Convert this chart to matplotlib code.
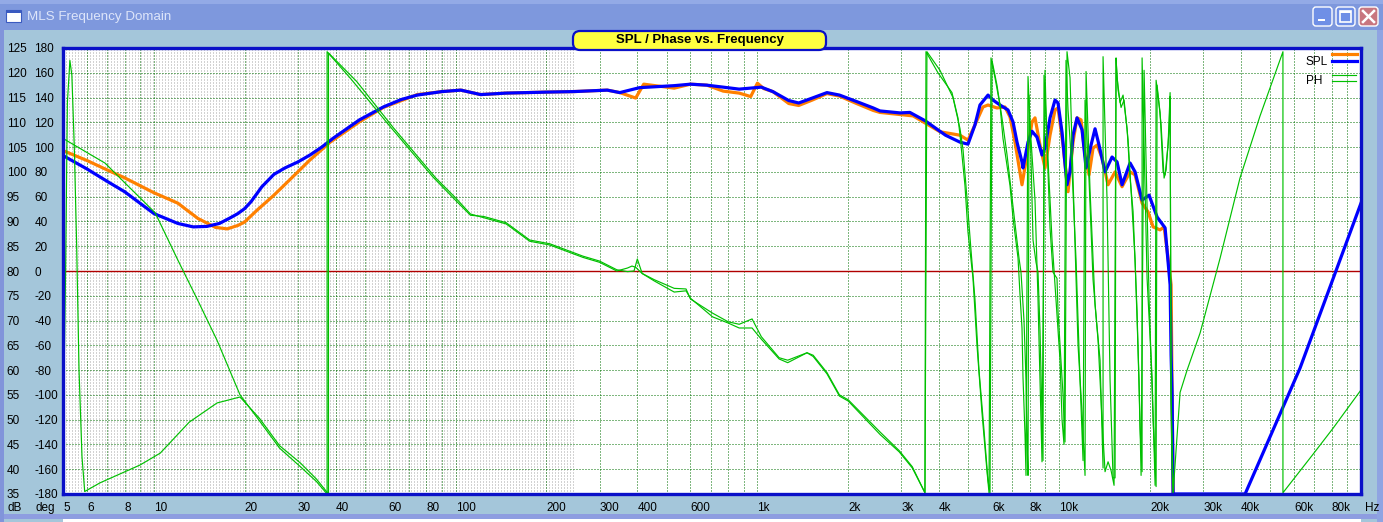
import matplotlib
matplotlib.use('Agg')
import matplotlib.pyplot as plt
import numpy as np
from matplotlib.patches import Rectangle, FancyBboxPatch
from matplotlib.lines import Line2D
from matplotlib.transforms import IdentityTransform

plt.rcParams['font.family'] = ['Liberation Sans', 'DejaVu Sans']

# ---- data (Hz, dB / Hz, deg) ----
spl_orange = [(5, 104.3), (6, 102.3), (7, 100.4), (8, 98.8), (10, 95.8), (12, 93.7), (14, 90.6),
              (16, 88.8), (17.5, 88.5), (19, 89.2), (20, 89.9), (22, 92.3), (25, 95.3), (28.2, 98.4),
              (32.9, 102.4), (38.4, 106.0), (48, 110.1), (57.6, 113.0), (74.6, 115.6), (90, 116.2),
              (104, 116.5), (121, 115.6), (147, 115.9), (200, 116.1), (245, 116.2), (318, 116.5),
              (350, 116.0), (395, 114.9), (420, 117.7), (530, 116.9), (600, 117.7), (680, 117.5),
              (770, 116.3), (870, 115.9), (950, 115.2), (1000, 117.9), (1050, 116.8), (1125, 116.2),
              (1270, 113.8), (1370, 113.4), (1520, 114.5), (1700, 115.8), (1870, 115.3), (2130, 113.8),
              (2420, 112.4), (2547, 112.0), (3280, 111.3), (4026, 108.1), (4690, 107.4), (4985, 106.4),
              (5259, 109.5), (5590, 113.1), (5808, 113.5), (6220, 112.9), (6612, 113.1), (6869, 111.1),
              (7137, 106.0), (7528, 97.4), (7822, 103.4), (8126, 110.1), (8314, 110.9), (8637, 105.4),
              (8973, 100.8), (9322, 107.4), (9685, 112.5), (9910, 112.9), (10296, 105.4), (10696, 96.0),
              (11112, 106.0), (11457, 110.9), (11812, 110.5), (12178, 103.4), (12556, 99.4),
              (12945, 104.8), (13347, 105.4), (13866, 102.8), (14516, 97.4), (15313, 100.0),
              (16154, 97.0), (17171, 100.0), (17839, 99.4), (18820, 93.7), (19702, 91.9), (20470, 88.9),
              (21591, 88.3), (22260, 88.9), (22950, 82.6), (23484, 77.2), (23665, 55.0), (23846, 35.0)]

spl_blue = [(5, 103.3), (6, 100.6), (7, 98.1), (8, 96.0), (10, 91.6), (12, 89.6), (13.5, 88.9),
            (15, 89.0), (16.5, 89.6), (18, 90.8), (19, 91.6), (20, 92.6), (21, 94.0), (22.8, 97.0),
            (25, 99.5), (27.2, 100.8), (30, 102.0), (32.9, 103.4), (36, 105.0), (39.3, 106.8),
            (48, 110.5), (57.6, 113.1), (66, 114.6), (74.6, 115.5), (90, 116.2), (104, 116.5),
            (121, 115.6), (147, 115.9), (200, 116.1), (245, 116.2), (318, 116.5), (350, 116.0),
            (407, 117.0), (530, 117.4), (600, 117.7), (680, 117.5), (770, 117.1), (870, 116.7),
            (1030, 117.1), (1125, 116.2), (1270, 114.4), (1370, 113.9), (1520, 114.9), (1700, 116.0),
            (1870, 115.5), (2130, 114.2), (2420, 112.9), (2547, 112.3), (2970, 111.9), (3200, 112.0),
            (3600, 110.3), (4200, 107.4), (4690, 106.0), (4985, 105.6), (5259, 109.5), (5463, 113.5),
            (5808, 115.5), (6033, 114.5), (6364, 113.5), (6765, 112.5), (7028, 110.1), (7247, 106.0),
            (7528, 102.0), (7586, 100.8), (7882, 106.0), (8126, 108.2), (8442, 107.0), (8770, 103.4),
            (8973, 104.8), (9322, 110.9), (9685, 114.5), (9910, 113.9), (10217, 108.0), (10614, 97.4),
            (10860, 100.0), (11112, 107.4), (11457, 110.9), (11903, 108.5), (12272, 100.8),
            (12749, 105.4), (13144, 108.7), (13552, 105.4), (14187, 100.0), (14966, 103.0),
            (15549, 102.0), (16154, 97.4), (17171, 101.8), (17839, 100.0), (18820, 94.3), (19851, 95.3),
            (21103, 90.9), (22432, 88.7), (22950, 81.8), (23305, 77.2), (23484, 63.0), (23665, 55.0),
            (23846, 35.0), (41300, 35.0), (62800, 60.4), (100000, 93.7)]

phase_a = [(5, 107), (6.9, 87), (7.84, 73.5), (10.1, 47), (12, 9), (14, -24), (16.2, -56), (19.3, -100),
           (22.4, -121), (26.1, -143), (30.6, -158), (34.6, -170), (37.5, -180), (37.5, 177), (45, 155),
           (60, 118), (84, 76), (100, 57), (112, 45), (124, 44), (147, 39), (176, 25), (205, 22), (245, 15),
           (264, 12), (300, 8), (342, 1), (371, -0.5), (390, 0), (400, 9.7), (415, -2), (455, -7),
           (530, -14), (580, -14.5), (600, -22.6), (710, -34), (800, -41), (870, -43), (960, -38.7),
           (1030, -53), (1180, -70), (1260, -72), (1460, -66), (1530, -68), (1700, -82), (1870, -100),
           (2000, -104), (2550, -130), (2950, -145), (3260, -158), (3590, -179), (3618, 177), (3965, 160),
           (4412, 144), (4619, 123.5), (4690, 110), (4872, 69), (4985, 31.5), (5179, -5.6), (5340, -60),
           (5546, -114), (5765, -162), (5853, -179), (5942, 172), (6126, 156), (6364, 134), (6511, 107),
           (6869, 69), (7028, 43), (7303, 10.5), (7414, -19), (7528, -46), (7586, -86), (7703, -132),
           (7762, -165), (7882, 157), (8003, 118), (8314, 57), (8507, -23), (8637, -88), (8770, -154),
           (8973, 162), (9111, 102), (9322, 35), (9538, -1), (9834, -6), (9910, -33), (10062, -60),
           (10296, -100), (10453, -138), (10614, 177), (10860, 156), (11283, 21), (11545, -60),
           (11903, -114), (12178, -165), (12272, 161), (12652, 65), (13144, -27), (13656, -72),
           (13973, -159), (13973, 173), (14406, 57), (14739, -88), (15080, -167), (15313, -167),
           (15431, 172), (15549, 156), (15909, 136), (16277, 142), (16783, 115), (17171, 75), (17570, 48),
           (18114, -33), (18534, -127), (18820, -162), (18820, 172), (19552, -6), (20312, -86),
           (20783, -173), (20943, 154), (21591, 128), (22092, 80), (22432, 77.5), (22950, 102),
           (23305, 144), (23484, -100), (23665, -136), (23846, -179), (25150, -98), (26531, -80),
           (29302, -50), (34095, 10), (39716, 75), (46260, 125), (55125, 177), (55125, -179),
           (69310, -148), (80757, -127), (100000, -96)]

phase_b = [(5.03, -102), (5.1, 0), (5.17, 136), (5.27, 170), (5.35, 158), (5.45, 100), (5.55, 20),
           (5.65, -80), (5.78, -150), (5.9, -178), (6.63, -171), (9.0, -156.6), (10.5, -147), (13.1, -122),
           (16.2, -106.5), (19.3, -101.7), (22.4, -119), (26.1, -141), (30.6, -155), (34.6, -168),
           (37.9, -180), (37.9, 176), (47, 153), (62, 116), (86, 75), (100, 59), (112, 46), (124, 43),
           (147, 38), (176, 24), (205, 21), (245, 14), (264, 11), (300, 7), (342, 0), (371, 2.4), (384, 4),
           (395, 3), (415, -2), (455, -8), (530, -17), (580, -16), (600, -22), (710, -37), (800, -42),
           (870, -46), (960, -46), (1030, -55), (1180, -71), (1260, -74), (1460, -66), (1530, -69),
           (1700, -83), (1870, -101), (2000, -105), (2550, -132), (2950, -146), (3260, -159), (3590, -179),
           (3645, 177), (4026, 162), (4446, 140), (4690, 115), (4800, 98), (4947, 59), (5101, 17),
           (5259, -23), (5422, -80), (5632, -128), (5808, -169), (5897, -179), (5988, 170), (6220, 150),
           (6462, 123.5), (6714, 94), (6975, 59), (7192, 31.5), (7357, 10.5), (7471, -1), (7644, -40),
           (7762, -88), (7822, -136), (7882, -165), (7942, 142), (8064, 90), (8189, 25), (8378, 7),
           (8507, -1), (8637, -48), (8770, -120), (8837, -153), (8905, 158), (9181, 90), (9466, 25),
           (9760, -23), (10062, -72), (10217, -120), (10374, -140), (10533, 170), (10696, 130),
           (11028, 81.5), (11369, 9), (11722, -88), (11994, -153), (12178, 138), (12555, 73.5),
           (12945, -7), (13449, -56), (13866, -120), (14187, -162), (14516, -154), (14852, -161),
           (15196, -173), (15431, 170), (15668, 146), (16031, 132), (16402, 138), (16910, 106),
           (17303, 65), (17839, 9), (18392, -88), (18677, -165), (19109, 162), (19852, -23),
           (20470, -120), (20943, -174), (21103, 150), (21757, 118), (22260, 75), (22604, 81.5),
           (23127, 114), (23305, 141), (23484, -104), (23665, -161), (23846, -179)]

x_ticks = [5, 6, 8, 10, 20, 30, 40, 60, 80, 100, 200, 300, 400, 600, 1000, 2000, 3000, 4000,
           6000, 8000, 10000, 20000, 30000, 40000, 60000, 80000]
x_labels = ['5', '6', '8', '10', '20', '30', '40', '60', '80', '100', '200', '300', '400', '600',
            '1k', '2k', '3k', '4k', '6k', '8k', '10k', '20k', '30k', '40k', '60k', '80k']
db_ticks = list(range(35, 126, 5))
deg_ticks = list(range(-180, 181, 20))

# ---- figure ----
W, H = 1383, 522
BG = '#A4C6DA'
fig = plt.figure(figsize=(W / 100, H / 100), dpi=100, facecolor=BG)
L, R, T, B = 63, 1361, 48, 494
ax = fig.add_axes([L / W, 1 - B / H, (R - L) / W, (B - T) / H])
ax.set_facecolor('white')
ax2 = ax.twinx()

ax.set_xscale('log')
ax.set_xlim(5, 100000)
ax.set_ylim(35, 125)
ax2.set_ylim(-180, 180)
ax.xaxis.set_minor_locator(matplotlib.ticker.NullLocator())

# grid: dense grey dotted columns at the low end, green dotted major grid
dots = (0, (1, 2))
minor_pos = np.geomspace(5, 245, 171)[1:]
ax.vlines(minor_pos, 35, 125, colors='#A6A6A6', linestyles=dots, lw=0.72, zorder=0.5, snap=True)
grid_f = [m * 10 ** e for e in range(0, 5) for m in range(1, 10) if 5 < m * 10 ** e < 100000]
ax.vlines(grid_f, 35, 125, colors='#007000', linestyles=dots, lw=0.72, zorder=0.6, snap=True)
ax.hlines(db_ticks[1:-1], 5, 100000, colors='#007000', linestyles=dots, lw=0.72, zorder=0.6,
          snap=True)
ax.axhline(80, color='#B00000', lw=1.0, zorder=0.8)

# curves
fo, vo = zip(*spl_orange)
fb, vb = zip(*spl_blue)
ax.plot(fo, vo, color='#FF8000', lw=2.3, zorder=2)
ax.plot(fb, vb, color='#0000FF', lw=2.3, zorder=3)
fa, pa = zip(*phase_a)
fpb, pb = zip(*phase_b)
ax2.plot(fpb, pb, color='#00C000', lw=0.85)
ax2.plot(fa, pa, color='#00C000', lw=0.85)

# frame
for s in ax.spines.values():
    s.set_visible(False)
for s in ax2.spines.values():
    s.set_color('#0A10C8')
    s.set_linewidth(2.4)

# ticks
ax.set_xticks(x_ticks, x_labels)
for lab in ax.get_xticklabels():
    lab.set_ha('left')
ax.tick_params(axis='x', length=0, pad=6, labelsize=8.5)
ax.set_yticks(db_ticks, [str(v) for v in db_ticks])
ax.tick_params(axis='y', length=0, pad=40.5, labelsize=8.5)
for lab in ax.get_yticklabels():
    lab.set_ha('left')
ax2.yaxis.tick_left()
ax2.set_yticks(deg_ticks, [str(v) for v in deg_ticks])
ax2.tick_params(axis='y', length=0, pad=20.5, labelsize=8.5)
for lab in ax2.get_yticklabels():
    lab.set_ha('left')

fig.text(7 / W, 1 - 508 / H, 'dB', fontsize=8.5, va='center')
fig.text(35 / W, 1 - 508 / H, 'deg', fontsize=8.5, va='center')
fig.text(1365 / W, 1 - 508 / H, 'Hz', fontsize=8.5, va='center')

# ---- window chrome (screen pixels, origin top-left) ----
ID = IdentityTransform()


def box(x0, y0, x1, y1, **kw):
    r = Rectangle((x0, H - y1), x1 - x0, y1 - y0, transform=ID, **kw)
    fig.add_artist(r)
    return r


def rbox(x0, y0, x1, y1, rad, **kw):
    r = FancyBboxPatch((x0, H - y1), x1 - x0, y1 - y0, boxstyle=f'round,pad=0,rounding_size={rad}',
                       transform=ID, **kw)
    fig.add_artist(r)
    return r


def seg(x0, y0, x1, y1, **kw):
    fig.add_artist(Line2D([x0, x1], [H - y0, H - y1], transform=ID, **kw))


box(0, 0, W, 30, fc='#7E98DD', ec='none', zorder=1)
box(0, 0, W, 4, fc='#93AAE6', ec='none', zorder=1)
box(0, 30, 4, H, fc='#8194DA', ec='none', zorder=1)
box(1377, 30, W, H, fc='#8FA4E2', ec='none', zorder=1)
box(4, 514, 1377, 519, fc='#8E9DE0', ec='none', zorder=1)
box(63, 519, 1361, H, fc='white', ec='none', zorder=1)

# app icon
box(6, 10, 21, 22, fc='white', ec='#3A5AC0', lw=0.8, zorder=2)
box(6, 10, 21, 13, fc='#3A5AC0', ec='none', zorder=2)
fig.text(27 / W, 1 - 17 / H, 'MLS Frequency Domain', fontsize=9.6, color='#DDE5FA', va='center',
         zorder=3)

# caption buttons
rbox(1313, 7, 1332, 26, 3, fc='#6F8FE6', ec='white', lw=1, zorder=2)
box(1318, 19, 1325, 21, fc='white', ec='none', zorder=3)
rbox(1336, 7, 1355, 26, 3, fc='#6F8FE6', ec='white', lw=1, zorder=2)
box(1340, 11, 1351, 22, fc='none', ec='white', lw=1.2, zorder=3)
box(1340, 11, 1351, 13, fc='white', ec='none', zorder=3)
rbox(1359, 7, 1378, 26, 3, fc='#C8767F', ec='white', lw=1, zorder=2)
seg(1363, 11, 1374, 22, color='white', lw=1.8, zorder=3)
seg(1374, 11, 1363, 22, color='white', lw=1.8, zorder=3)

# chart caption
rbox(573, 31, 826, 50, 7, fc='#FFFF40', ec='#0A10C8', lw=1.6, zorder=4)
fig.text(699.5 / W, 1 - 40.5 / H, 'SPL / Phase vs. Frequency', fontsize=9.5, weight='bold',
         ha='center', va='center', zorder=5)

# legend
fig.text(1306 / W, 1 - 62 / H, 'SPL', fontsize=8.5, va='center', zorder=5)
fig.text(1306 / W, 1 - 81 / H, 'PH', fontsize=8.5, va='center', zorder=5)
seg(1332, 54, 1357, 54, color='#FF8000', lw=2.3, zorder=5)
seg(1332, 61, 1357, 61, color='#0000FF', lw=2.3, zorder=5)
seg(1332, 75, 1356, 75, color='#00C000', lw=0.85, zorder=5)
seg(1332, 81, 1356, 81, color='#00C000', lw=0.85, zorder=5)

fig.savefig('out.png', dpi=100, facecolor=BG)
